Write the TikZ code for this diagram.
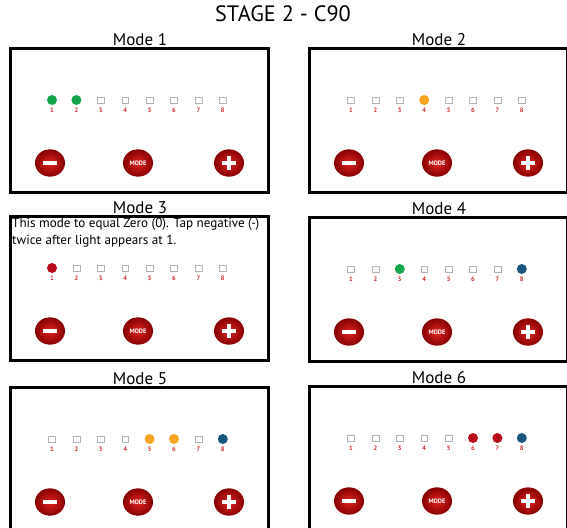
\documentclass[tikz,border=0pt]{standalone}
\usepackage{fontspec}
\setmainfont{PT Sans}
\usetikzlibrary{shapes.geometric}
\definecolor{ledgreen}{RGB}{20,165,75}
\definecolor{ledorange}{RGB}{245,165,30}
\definecolor{ledred}{RGB}{185,10,25}
\definecolor{ledblue}{RGB}{25,85,125}
\definecolor{btnred}{RGB}{225,35,35}
\definecolor{btndark}{RGB}{135,0,0}
\definecolor{numred}{RGB}{205,45,45}

\begin{document}
\begin{tikzpicture}
[x=.03cm,y=-.03cm]
\tikzset{box/.style={draw,line width=2.6pt,minimum width=7.74cm,minimum height=4.32cm,anchor=north west}}
\tikzset{led/.style={circle,minimum size=.3cm,inner sep=0}}
\tikzset{led-g/.style={led,fill=ledgreen}}
\tikzset{led-o/.style={led,fill=ledorange}}
\tikzset{led-r/.style={led,fill=ledred}}
\tikzset{led-b/.style={led,fill=ledblue}}
\tikzset{led-n/.style={draw=gray!60,line width=.4pt,minimum width=.2cm,minimum height=.17cm,inner sep=0}}
\tikzset{num/.style={text=numred,font=\fontsize{5.5}{5.5}\selectfont\bfseries}}
\tikzset{btn/.style={ellipse,minimum width=.9cm,minimum height=.82cm,inner sep=0,shading=radial,inner color=btnred,outer color=btndark}}
\tikzset{sign/.style={white,line width=.1cm}}
\tikzset{lab/.style={font=\fontsize{14.5}{14.5}\selectfont,anchor=base}}

\useasboundingbox (0,0) rectangle (567,527);
\clip (0,0) rectangle (567,527);

\node [font=\fontsize{19}{19}\selectfont] (title) at (283,14) {STAGE 2 - C90};

\foreach \p/\px/\py/\leds in {1/9/47/{g,g,n,n,n,n,n,n},2/308/47/{n,n,n,o,n,n,n,n},
	3/9/215/{r,n,n,n,n,n,n,n},4/308/216/{n,n,g,n,n,n,n,b},
	5/9/386/{n,n,n,n,o,o,n,b},6/308/385/{n,n,n,n,n,r,r,b}}
{
	\node [box] (p\p) at (\px,\py) {};
	\node [lab] (p\p-lab) at ({\px+131},{\py-2}) {Mode \p};
	\foreach \c [count=\i] in \leds {
		\node [led-\c] (p\p-led\i) at ({\px+18.6+24.4*\i},{\py+53}) {};
		\node [num] (p\p-num\i) at ({\px+18.6+24.4*\i},{\py+63}) {\i};
	}
	\node [btn] (p\p-minus) at ({\px+41},{\py+116}) {};
	\node [btn,text=white,font=\fontsize{5.5}{5.5}\selectfont\bfseries] (p\p-mode) at ({\px+129},{\py+116}) {MODE};
	\node [btn] (p\p-plus) at ({\px+220},{\py+116}) {};
	\draw [sign] (p\p-minus.center) ++(-7,0) -- ++(14,0);
	\draw [sign] (p\p-plus.center) ++(-7,0) -- ++(14,0);
	\draw [sign] (p\p-plus.center) ++(0,-7) -- ++(0,14);
}

\node [anchor=north west,align=left,inner sep=0,font=\fontsize{11.2}{14.5}\selectfont] (p3-note) at (12,218)
	{This mode to equal Zero (0). Tap negative (-)\\twice after light appears at 1.};
\end{tikzpicture}
\end{document}
